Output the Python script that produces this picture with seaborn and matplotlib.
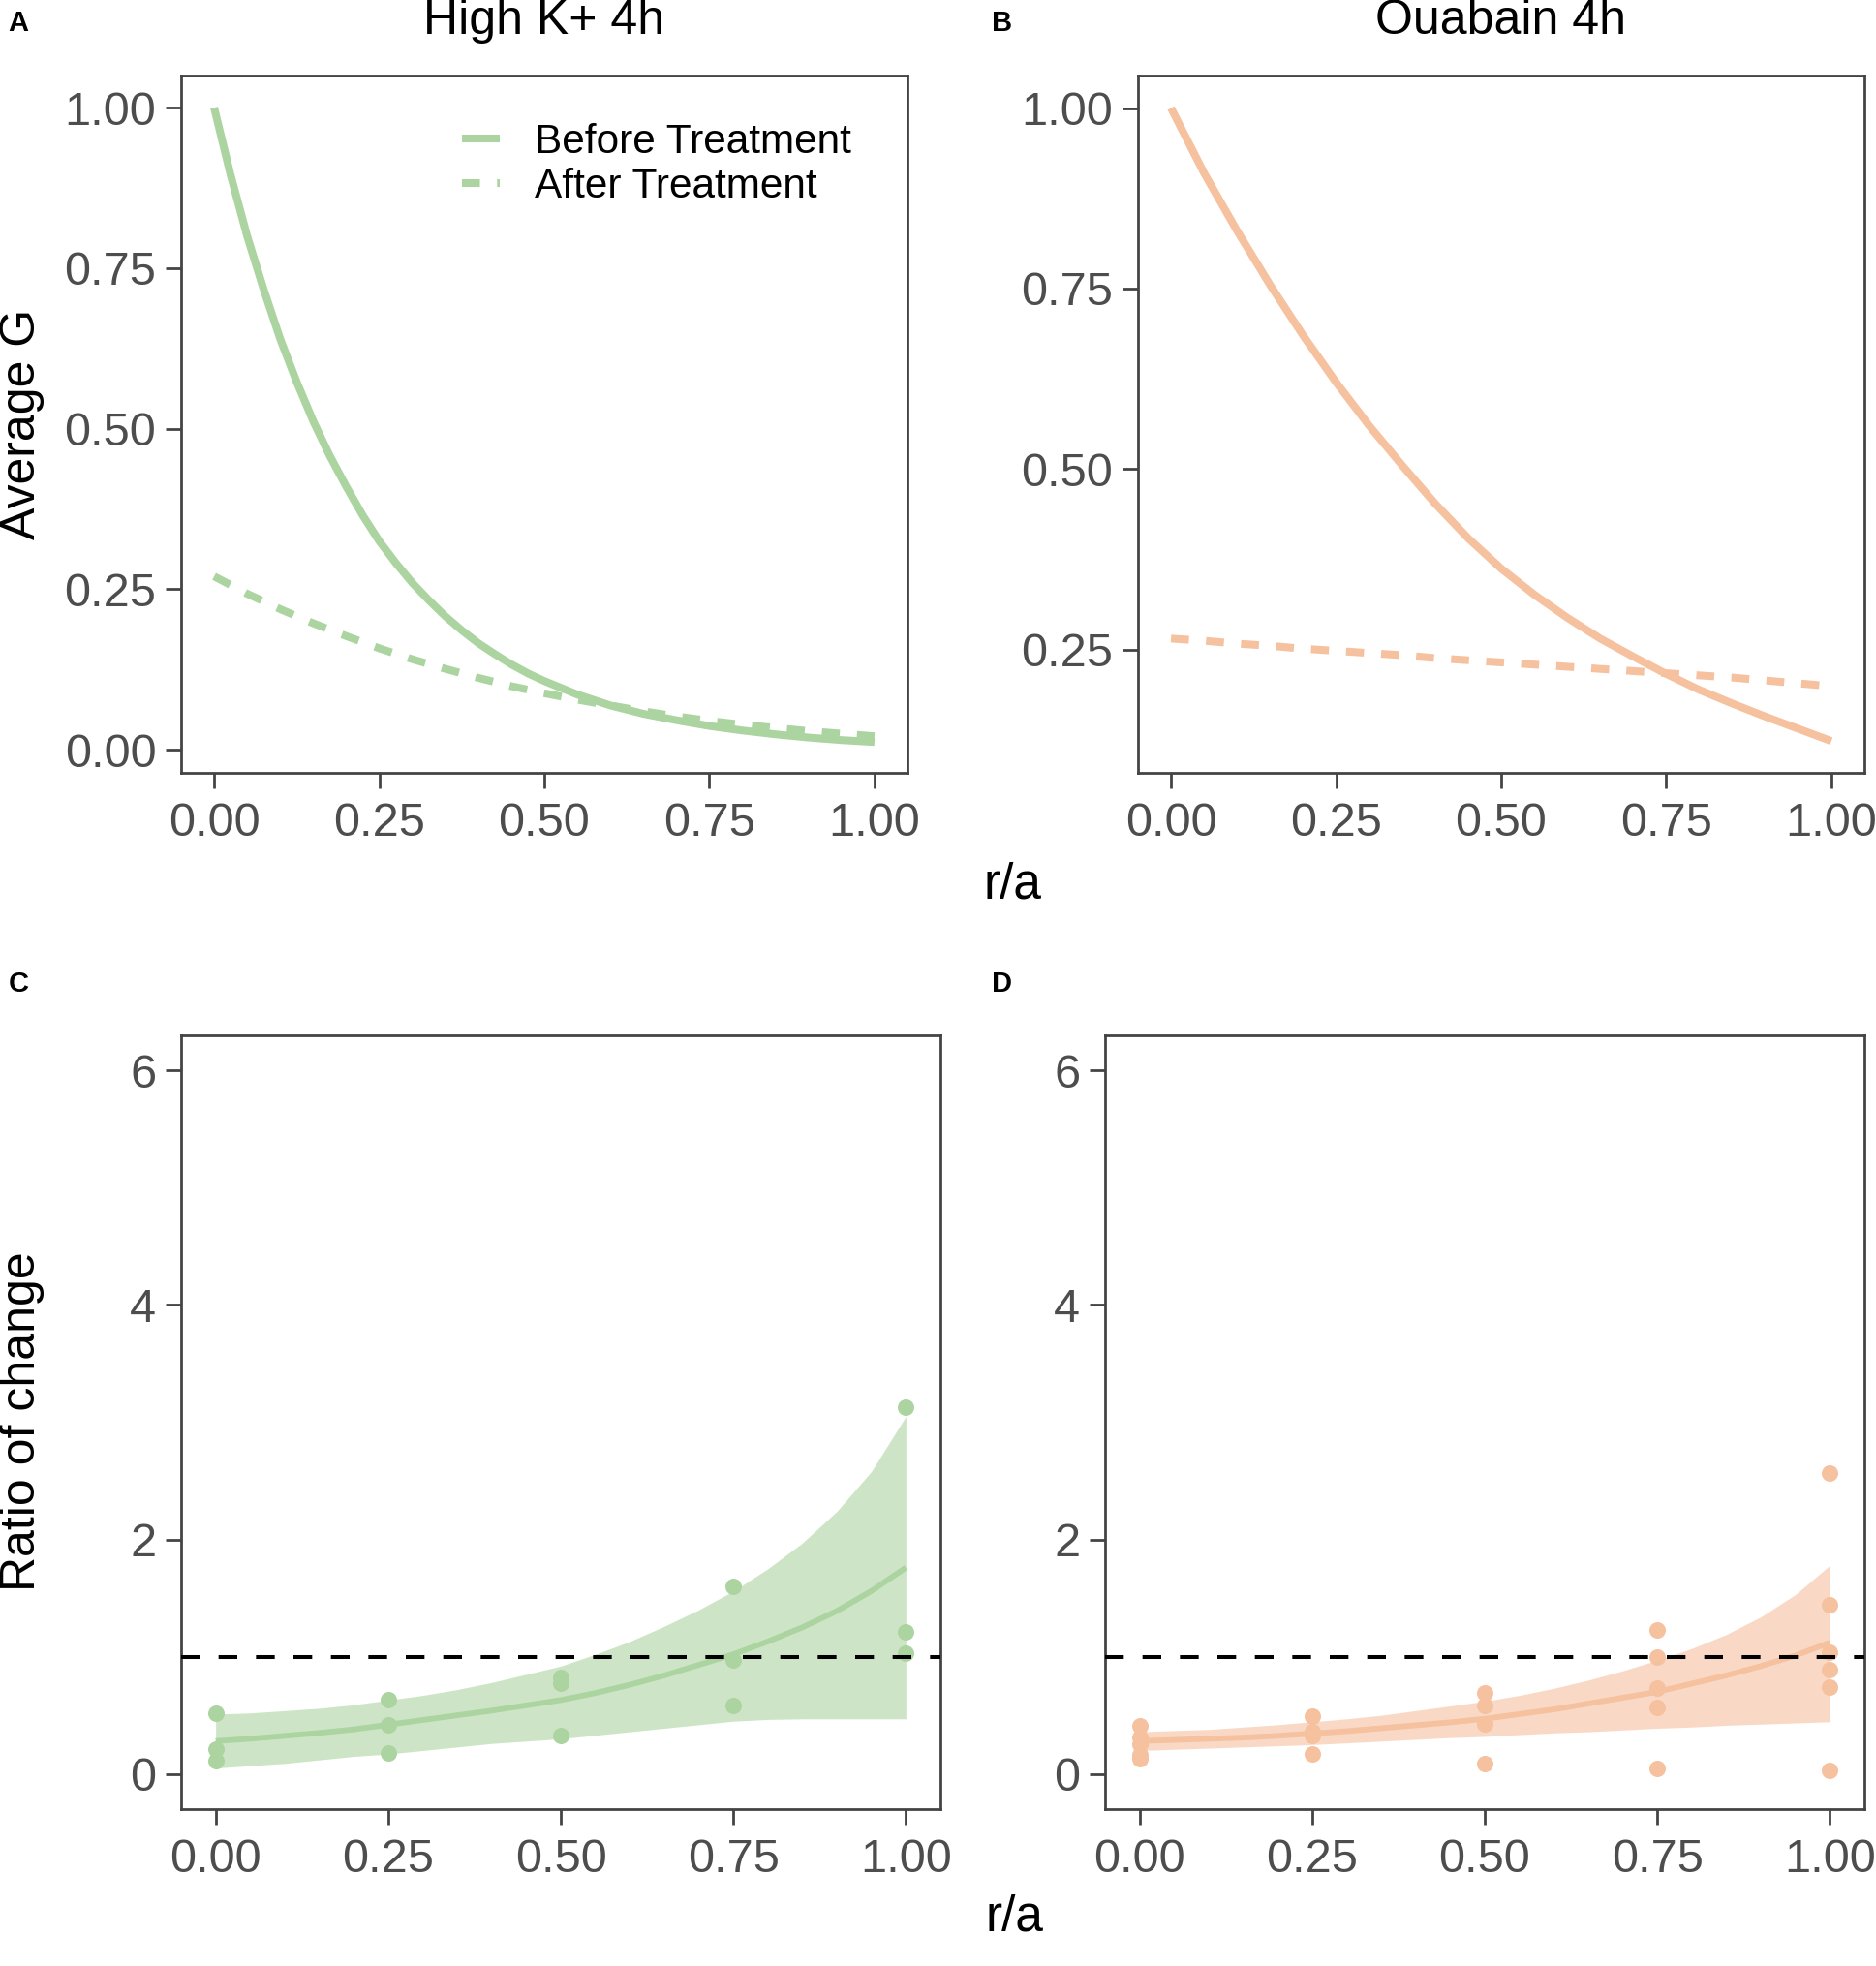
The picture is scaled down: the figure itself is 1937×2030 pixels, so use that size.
import numpy as np
import pandas as pd
import matplotlib
matplotlib.use("Agg")
import matplotlib.pyplot as plt
from matplotlib.lines import Line2D
import seaborn as sns

sns.set_theme(style="white")
plt.rcParams['font.family'] = ['Liberation Sans', 'DejaVu Sans']

# ---------------- data ----------------
r_grid = [0.00, 0.05, 0.10, 0.15, 0.20, 0.25, 0.30, 0.35, 0.40, 0.45, 0.50,
          0.55, 0.60, 0.65, 0.70, 0.75, 0.80, 0.85, 0.90, 0.95, 1.00]
r_fine = [0.000, 0.025, 0.050, 0.075, 0.100, 0.125, 0.150, 0.175, 0.200, 0.225, 0.250,
          0.275, 0.300, 0.325, 0.350, 0.375, 0.400, 0.425, 0.450, 0.475, 0.500,
          0.55, 0.60, 0.65, 0.70, 0.75, 0.80, 0.85, 0.90, 0.95, 1.00]

# Panel A (High K+ 4h)
highk_before = [1.000, 0.895, 0.800, 0.717, 0.640, 0.573, 0.512, 0.458, 0.410, 0.365, 0.325,
                0.291, 0.260, 0.233, 0.208, 0.186, 0.166, 0.149, 0.133, 0.119, 0.107,
                0.086, 0.069, 0.056, 0.046, 0.037, 0.030, 0.024, 0.019, 0.015, 0.012]
highk_after = [0.270, 0.243, 0.219, 0.197, 0.177, 0.158, 0.141, 0.126, 0.112, 0.099, 0.088,
               0.078, 0.069, 0.060, 0.052, 0.045, 0.039, 0.034, 0.029, 0.025, 0.021]

# Panel B (Ouabain 4h)
ouab_before = [1.000, 0.910, 0.830, 0.755, 0.685, 0.620, 0.560, 0.505, 0.452, 0.404, 0.362,
               0.326, 0.294, 0.265, 0.240, 0.216, 0.194, 0.175, 0.157, 0.140, 0.123]
ouab_after = [0.265, 0.262, 0.258, 0.255, 0.251, 0.248, 0.245, 0.242, 0.238, 0.235, 0.232,
              0.229, 0.226, 0.223, 0.220, 0.217, 0.214, 0.211, 0.207, 0.203, 0.199]

# Panel C (High K+ ratio of change)
highk_pts_x = [0, 0, 0, 0.25, 0.25, 0.25, 0.5, 0.5, 0.5, 0.75, 0.75, 0.75, 1, 1, 1]
highk_pts_y = [0.52, 0.21, 0.11, 0.63, 0.42, 0.18, 0.82, 0.77, 0.33, 1.60, 0.97, 0.58, 3.13, 1.21, 1.03]
highk_fit = [0.28, 0.30, 0.325, 0.35, 0.38, 0.42, 0.46, 0.50, 0.54, 0.585, 0.63,
             0.69, 0.76, 0.84, 0.93, 1.02, 1.13, 1.25, 1.39, 1.56, 1.76]
highk_hi = [0.51, 0.52, 0.54, 0.56, 0.59, 0.63, 0.67, 0.72, 0.78, 0.85, 0.92,
            1.02, 1.13, 1.26, 1.40, 1.56, 1.75, 1.97, 2.24, 2.58, 3.05]
highk_lo = [0.05, 0.07, 0.09, 0.12, 0.15, 0.17, 0.20, 0.23, 0.26, 0.28, 0.30,
            0.33, 0.36, 0.39, 0.42, 0.45, 0.465, 0.47, 0.47, 0.47, 0.47]

# Panel D (Ouabain ratio of change)
ouab_pts_x = [0, 0, 0, 0, 0, 0.25, 0.25, 0.25, 0.25, 0.5, 0.5, 0.5, 0.5,
              0.75, 0.75, 0.75, 0.75, 0.75, 1, 1, 1, 1, 1, 1]
ouab_pts_y = [0.41, 0.31, 0.25, 0.16, 0.13, 0.49, 0.36, 0.33, 0.17, 0.69, 0.58, 0.43, 0.09,
              1.23, 1.00, 0.73, 0.57, 0.05, 2.57, 1.44, 1.04, 0.89, 0.74, 0.03]
ouab_fit = [0.28, 0.29, 0.30, 0.31, 0.325, 0.345, 0.365, 0.39, 0.415, 0.44, 0.47,
            0.51, 0.55, 0.60, 0.65, 0.70, 0.77, 0.84, 0.92, 1.01, 1.12]
ouab_hi = [0.36, 0.37, 0.38, 0.40, 0.42, 0.445, 0.47, 0.50, 0.54, 0.58, 0.62,
           0.67, 0.73, 0.80, 0.88, 0.97, 1.07, 1.19, 1.34, 1.53, 1.78]
ouab_lo = [0.20, 0.21, 0.22, 0.23, 0.24, 0.25, 0.265, 0.28, 0.295, 0.31, 0.32,
           0.335, 0.35, 0.36, 0.375, 0.39, 0.40, 0.415, 0.425, 0.435, 0.445]

x_ticks = [0.00, 0.25, 0.50, 0.75, 1.00]
x_ticklabels = ["0.00", "0.25", "0.50", "0.75", "1.00"]

GREEN = "#ACD4A0"
ORANGE = "#F5C19F"
SPINE = "#444444"
TICKTXT = "#4D4D4D"

W, H = 1937, 2030
fig = plt.figure(figsize=(W / 100, H / 100), dpi=100)
fig.patch.set_facecolor("white")


def add_ax(left, top, right, bottom):
    return fig.add_axes([left / W, 1 - bottom / H, (right - left) / W, (bottom - top) / H])


axA = add_ax(187, 78, 937, 798)
axB = add_ax(1175, 78, 1925, 798)
axC = add_ax(187, 1069, 971, 1868)
axD = add_ax(1141, 1069, 1925, 1868)


def style_ax(ax):
    ax.set_facecolor("white")
    for s in ax.spines.values():
        s.set_visible(True)
        s.set_color(SPINE)
        s.set_linewidth(2.0)
    ax.tick_params(axis="both", which="major", length=11.5, width=2.0, color=SPINE,
                   labelsize=35, labelcolor=TICKTXT, pad=7, direction="out",
                   bottom=True, left=True)
    ax.tick_params(axis="x", pad=10)
    ax.set_xlim(-0.05, 1.05)
    ax.set_xticks(x_ticks)
    ax.set_xticklabels(x_ticklabels)
    ax.set_xlabel("")
    ax.set_ylabel("")
    ax.grid(False)


LW = 5.8
DASH = (2.3, 2.2)

# ---- Panel A
dfA_before = pd.DataFrame({"r": r_fine, "g": highk_before})
dfA_after = pd.DataFrame({"r": r_grid, "g": highk_after})
sns.lineplot(data=dfA_after, x="r", y="g", ax=axA, color=GREEN, linewidth=LW)
axA.lines[-1].set_dashes(DASH)
sns.lineplot(data=dfA_before, x="r", y="g", ax=axA, color=GREEN, linewidth=LW)
style_ax(axA)
axA.set_ylim(-0.036, 1.05)
axA.set_yticks([0.0, 0.25, 0.5, 0.75, 1.0])
axA.set_yticklabels(["0.00", "0.25", "0.50", "0.75", "1.00"])
handles = [Line2D([0], [0], color=GREEN, lw=LW, solid_capstyle="butt"),
           Line2D([0], [0], color=GREEN, lw=LW, dashes=DASH, dash_capstyle="butt")]
leg = axA.legend(handles, ["Before Treatment", "After Treatment"], frameon=False,
                 fontsize=30.5, handlelength=0.92, handletextpad=0.85, labelspacing=0.13,
                 borderpad=0, loc="upper left",
                 bbox_to_anchor=(456 / W, 1 - 106 / H), bbox_transform=fig.transFigure)
for t in leg.get_texts():
    t.set_color("black")

# ---- Panel B
dfB = pd.DataFrame({"r": r_grid, "before": ouab_before, "after": ouab_after})
sns.lineplot(data=dfB, x="r", y="after", ax=axB, color=ORANGE, linewidth=LW)
axB.lines[-1].set_dashes(DASH)
sns.lineplot(data=dfB, x="r", y="before", ax=axB, color=ORANGE, linewidth=LW)
style_ax(axB)
axB.set_ylim(0.079, 1.045)
axB.set_yticks([0.25, 0.5, 0.75, 1.0])
axB.set_yticklabels(["0.25", "0.50", "0.75", "1.00"])


# ---- Panels C, D
def ratio_panel(ax, px, py, fit, lo, hi, col):
    sns.scatterplot(x=px, y=py, ax=ax, color=col, s=150, linewidth=0, zorder=2)
    ax.fill_between(r_grid, lo, hi, color=col, alpha=0.6, linewidth=0, zorder=3)
    sns.lineplot(x=r_grid, y=fit, ax=ax, color=col, linewidth=4.2, zorder=4)
    ax.axhline(1.0, color="black", linewidth=2.9, dashes=(4.8, 4.8), zorder=5)
    style_ax(ax)
    ax.set_ylim(-0.3, 6.3)
    ax.set_yticks([0, 2, 4, 6])
    ax.set_yticklabels(["0", "2", "4", "6"])


ratio_panel(axC, highk_pts_x, highk_pts_y, highk_fit, highk_lo, highk_hi, GREEN)
ratio_panel(axD, ouab_pts_x, ouab_pts_y, ouab_fit, ouab_lo, ouab_hi, ORANGE)

for ax in (axA, axB, axC, axD):
    for ln in ax.lines:
        ln.set_solid_capstyle("butt")
        ln.set_dash_capstyle("butt")

# ---- text
fig.text(562 / W, 1 - 22 / H, "High K+ 4h", ha="center", va="center", fontsize=36, color="black")
fig.text(1550 / W, 1 - 22 / H, "Ouabain 4h", ha="center", va="center", fontsize=36, color="black")
fig.text(23 / W, 1 - 438 / H, "Average G", rotation=90, ha="center", va="center", fontsize=36, color="black")
fig.text(23 / W, 1 - 1468 / H, "Ratio of change", rotation=90, ha="center", va="center", fontsize=36, color="black")
fig.text(1045 / W, 1 - 914 / H, "r/a", ha="center", va="center", fontsize=37, color="black")
fig.text(1047 / W, 1 - 1980 / H, "r/a", ha="center", va="center", fontsize=37, color="black")
for lab, x, y in [("A", 19, 24), ("B", 1035, 24), ("C", 19, 1016), ("D", 1035, 1016)]:
    fig.text(x / W, 1 - y / H, lab, ha="center", va="center", fontsize=21,
             fontweight="bold", color="black")

fig.savefig("out.png", dpi=100, facecolor="white")
